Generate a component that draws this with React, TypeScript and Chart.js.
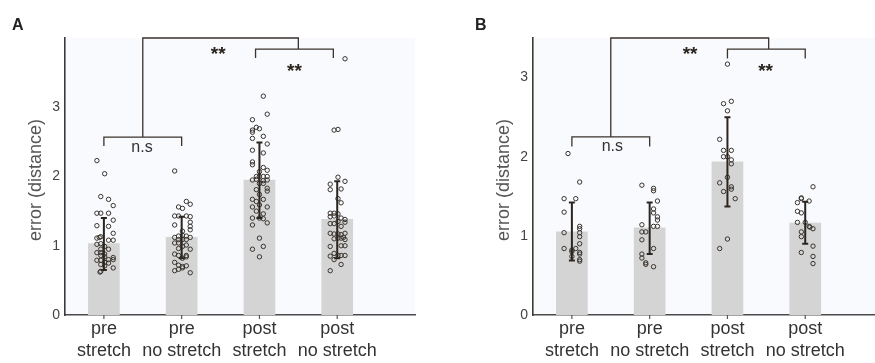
import React, { useEffect, useRef } from 'react';
import { Chart, registerables } from 'chart.js';

Chart.register(...registerables);

const FONT = '"Liberation Sans", Arial, Helvetica, sans-serif';

// ---- shared axis data ----
const CATEGORIES: string[][] = [
  ['pre', 'stretch'],
  ['pre', 'no stretch'],
  ['post', 'stretch'],
  ['post', 'no stretch'],
];
const CATEGORY_TICKS = [1, 2, 3, 4];
const Y_TICKS = [0, 1, 2, 3];
const Y_TITLE = 'error (distance)';

// ---- panel A data ----
const A_MEANS = [1.03, 1.12, 1.95, 1.38];
const A_ERR_LOW = [0.65, 0.82, 1.40, 0.82];
const A_ERR_HIGH = [1.40, 1.42, 2.49, 1.93];
// [jitter (category units), value]
const A_PTS_1: number[][] = [[-0.09,2.23],[0.01,2.04],[-0.04,1.71],[0.06,1.67],[0.12,1.58],[-0.09,1.47],[-0.04,1.47],[0.06,1.47],[0.12,1.37],[-0.09,1.29],[0.06,1.28],[0.12,1.18],[-0.09,1.11],[-0.06,1.12],[-0.04,1.13],[0.06,1.08],[0.12,1.08],[-0.09,1.02],[-0.04,1.03],[0.01,0.99],[-0.04,0.95],[0.06,0.95],[-0.09,0.90],[-0.04,0.90],[0.01,0.88],[-0.04,0.86],[0.01,0.84],[0.12,0.83],[0.06,0.80],[-0.09,0.79],[-0.04,0.79],[0.12,0.80],[0.01,0.76],[0.06,0.75],[-0.04,0.73],[0.01,0.71],[0.12,0.68],[-0.04,0.63],[-0.05,0.62]];
const A_PTS_2: number[][] = [[-0.09,2.08],[0.06,1.64],[0.11,1.60],[-0.04,1.56],[0.01,1.54],[-0.09,1.43],[-0.04,1.43],[0.06,1.43],[0.11,1.42],[0.11,1.34],[-0.09,1.30],[0.11,1.28],[0.11,1.23],[0.01,1.21],[-0.04,1.14],[0.01,1.15],[0.06,1.14],[-0.09,1.12],[0.11,1.12],[-0.04,1.09],[0.01,1.09],[0.06,1.09],[-0.09,1.04],[-0.04,1.04],[0.06,1.01],[0.01,0.99],[-0.04,0.96],[0.11,0.95],[-0.09,0.88],[-0.04,0.86],[0.06,0.86],[0.06,0.84],[0.01,0.82],[-0.09,0.76],[-0.04,0.72],[0.01,0.70],[0.06,0.71],[-0.09,0.64],[-0.04,0.66],[0.01,0.68],[0.11,0.61]];
const A_PTS_3: number[][] = [[0.05,3.16],[0.10,2.90],[-0.09,2.82],[-0.04,2.71],[0,2.69],[-0.09,2.67],[-0.09,2.64],[0.05,2.58],[-0.09,2.55],[0.10,2.47],[-0.09,2.38],[0.05,2.34],[-0.09,2.21],[-0.09,2.17],[0.05,2.13],[0,2.07],[0.10,2.09],[-0.04,2.00],[0,2.00],[0.05,2.00],[0.10,2.00],[-0.09,1.95],[-0.04,1.96],[0.05,1.94],[0.10,1.95],[0,1.90],[0.05,1.90],[0.10,1.83],[0.10,1.79],[-0.04,1.81],[0,1.74],[-0.09,1.67],[-0.04,1.64],[0.05,1.67],[0,1.59],[-0.09,1.56],[0.10,1.56],[-0.04,1.50],[0.05,1.46],[-0.09,1.40],[0,1.40],[0.05,1.39],[0.10,1.33],[-0.09,1.30],[0,1.11],[0.05,0.99],[-0.09,0.95],[0,0.84]];
const A_PTS_4: number[][] = [[0.10,3.70],[-0.04,2.67],[0.01,2.68],[0.01,1.99],[0.10,1.93],[-0.09,1.89],[-0.09,1.81],[0.05,1.82],[0.01,1.68],[0.05,1.62],[-0.09,1.47],[-0.04,1.47],[0.01,1.46],[-0.04,1.43],[-0.09,1.42],[0.05,1.40],[0.10,1.38],[0.10,1.34],[0.01,1.35],[-0.09,1.32],[-0.04,1.32],[0.05,1.28],[-0.09,1.18],[-0.04,1.17],[0.01,1.17],[0.05,1.16],[0.10,1.18],[-0.04,1.10],[0.01,1.11],[0.05,1.11],[0.08,1.12],[0.10,1.09],[-0.09,0.99],[0.05,1.00],[0.10,1.00],[-0.04,0.89],[-0.09,0.85],[0.01,0.86],[0.05,0.86],[0.10,0.86],[-0.04,0.80],[0.05,0.73],[-0.09,0.64]];
const A_BRACKETS = [
  { x1: 1, x2: 2, top: 2.57, end1: 2.44, end2: 2.44, label: 'n.s', lx: 1.49, ly: 2.42 },
  { x1: 2.95, x2: 3.95, top: 3.84, end1: 3.71, end2: 3.71, label: '**', lx: 3.45, ly: 3.60 },
  { x1: 1.5, x2: 3.5, top: 4.0, end1: 2.57, end2: 3.84, label: '**', lx: 2.47, ly: 3.84 },
];

// ---- panel B data ----
const B_MEANS = [1.05, 1.10, 1.935, 1.16];
const B_ERR_LOW = [0.69, 0.77, 1.37, 0.90];
const B_ERR_HIGH = [1.42, 1.42, 2.50, 1.43];
const B_PTS_1: number[][] = [[-0.05,2.04],[0.10,1.68],[-0.10,1.47],[0.05,1.47],[-0.10,1.30],[0.10,1.12],[0.10,1.09],[-0.10,1.04],[0.10,1.04],[0.10,0.99],[0.10,0.90],[-0.10,0.84],[0.05,0.84],[0,0.82],[0,0.80],[0.10,0.79],[0.10,0.77],[0,0.74],[0.10,0.70],[0.10,0.68]];
const B_PTS_2: number[][] = [[-0.10,1.64],[0.05,1.60],[0.05,1.57],[0.10,1.44],[0.05,1.34],[0.05,1.29],[0.10,1.24],[0.10,1.20],[-0.10,1.14],[0.05,1.12],[0.10,1.12],[-0.10,1.05],[-0.05,1.05],[-0.10,0.95],[0.05,0.84],[-0.10,0.77],[-0.10,0.72],[-0.05,0.66],[-0.05,0.64],[0.05,0.61]];
const B_PTS_3: number[][] = [[0,3.17],[-0.05,2.67],[0.05,2.70],[0,2.58],[-0.10,2.22],[-0.05,2.08],[0.05,2.08],[-0.05,2.00],[0,2.00],[0.05,1.96],[0.05,1.91],[0,1.74],[-0.10,1.67],[0.05,1.62],[0.05,1.59],[-0.05,1.56],[0.10,1.47],[0,0.96],[-0.10,0.84]];
const B_PTS_4: number[][] = [[0.10,1.62],[-0.05,1.48],[-0.05,1.47],[-0.10,1.42],[0.05,1.44],[-0.10,1.31],[-0.05,1.29],[-0.10,1.17],[0,1.17],[0.05,1.12],[0.06,1.11],[0.10,1.09],[-0.05,1.05],[-0.05,0.99],[0.10,0.87],[-0.05,0.79],[0.10,0.74],[0.10,0.65]];
const B_BRACKETS = [
  { x1: 1, x2: 2, top: 2.25, end1: 2.13, end2: 2.13, label: 'n.s', lx: 1.52, ly: 2.12 },
  { x1: 3, x2: 4, top: 3.36, end1: 3.24, end2: 3.24, label: '**', lx: 3.49, ly: 3.15 },
  { x1: 1.5, x2: 3.53, top: 3.5, end1: 2.25, end2: 3.36, label: '**', lx: 2.52, ly: 3.36 },
];

type Bracket = { x1: number; x2: number; top: number; end1: number; end2: number; label: string; lx: number; ly: number };

type PanelProps = {
  left: number;
  width: number;
  yAxisWidth: number;
  yMax: number;
  xMax: number;
  means: number[];
  errLow: number[];
  errHigh: number[];
  points: number[][][];
  brackets: Bracket[];
  letter: string;
  letterX: number;
};

function Panel(p: PanelProps) {
  const ref = useRef<HTMLCanvasElement | null>(null);
  useEffect(() => {
    if (!ref.current) return;
    const scatter: { x: number; y: number }[] = [];
    p.points.forEach((grp, i) => grp.forEach(([j, v]) => scatter.push({ x: i + 1 + j, y: v })));

    const decor = {
      id: 'decor',
      beforeDraw(chart: any) {
        const { ctx, chartArea: a } = chart;
        ctx.save();
        ctx.fillStyle = '#f9fafd';
        ctx.fillRect(a.left, a.top, a.right - a.left, a.bottom - a.top);
        ctx.restore();
      },
      afterDatasetsDraw(chart: any) {
        const { ctx } = chart;
        const xs = chart.scales.x, ys = chart.scales.y;
        ctx.save();
        ctx.strokeStyle = '#2b2520';
        ctx.lineWidth = 2;
        p.means.forEach((_m, i) => {
          const px = xs.getPixelForValue(i + 1);
          const lo = ys.getPixelForValue(p.errLow[i]);
          const hi = ys.getPixelForValue(p.errHigh[i]);
          ctx.beginPath();
          ctx.moveTo(px, lo); ctx.lineTo(px, hi);
          ctx.moveTo(px - 3, lo); ctx.lineTo(px + 3, lo);
          ctx.moveTo(px - 3, hi); ctx.lineTo(px + 3, hi);
          ctx.stroke();
        });
        ctx.restore();
      },
      afterDraw(chart: any) {
        const { ctx, chartArea: a } = chart;
        const xs = chart.scales.x, ys = chart.scales.y;
        ctx.save();
        // x tick marks
        ctx.strokeStyle = '#555';
        ctx.lineWidth = 1.2;
        CATEGORY_TICKS.forEach((v) => {
          const px = xs.getPixelForValue(v);
          ctx.beginPath(); ctx.moveTo(px, a.bottom); ctx.lineTo(px, a.bottom + 4); ctx.stroke();
        });
        // brackets
        ctx.strokeStyle = '#3a322c';
        ctx.lineWidth = 1.3;
        p.brackets.forEach((b) => {
          const x1 = xs.getPixelForValue(b.x1), x2 = xs.getPixelForValue(b.x2);
          const t = ys.getPixelForValue(b.top);
          ctx.beginPath();
          ctx.moveTo(x1, ys.getPixelForValue(b.end1));
          ctx.lineTo(x1, t);
          ctx.lineTo(x2, t);
          ctx.lineTo(x2, ys.getPixelForValue(b.end2));
          ctx.stroke();
          const lx = xs.getPixelForValue(b.lx), ly = ys.getPixelForValue(b.ly);
          ctx.textAlign = 'center';
          ctx.textBaseline = 'alphabetic';
          if (b.label === '**') {
            ctx.fillStyle = '#2b2520';
            ctx.font = `bold 19px ${FONT}`;
            ctx.fillText(b.label, lx, ly + 0.58 * 19);
          } else {
            ctx.fillStyle = '#333';
            ctx.font = `16px ${FONT}`;
            ctx.fillText(b.label, lx, ly + 0.26 * 16);
          }
        });
        // y title
        ctx.fillStyle = '#555';
        ctx.font = `18px ${FONT}`;
        ctx.textAlign = 'center';
        ctx.textBaseline = 'middle';
        ctx.translate(p.yAxisWidth - 29, 180);
        ctx.rotate(-Math.PI / 2);
        ctx.fillText(Y_TITLE, 0, 0);
        ctx.restore();
        // panel letter
        ctx.save();
        ctx.fillStyle = '#222';
        ctx.font = `bold 16px ${FONT}`;
        ctx.textAlign = 'left';
        ctx.textBaseline = 'alphabetic';
        ctx.fillText(p.letter, p.letterX, 30);
        ctx.restore();
      },
    };

    const chart = new Chart(ref.current, {
      type: 'bar',
      data: {
        datasets: [
          {
            type: 'scatter',
            data: scatter,
            pointRadius: 2.2,
            pointBorderWidth: 1,
            borderColor: '#3a342e',
            backgroundColor: 'rgba(0,0,0,0)',
            pointBackgroundColor: 'rgba(0,0,0,0)',
            pointBorderColor: '#3a342e',
            order: 1,
          } as any,
          {
            type: 'bar',
            data: p.means.map((m, i) => ({ x: i + 1, y: m })),
            backgroundColor: '#d4d4d4',
            barThickness: 31,
            order: 2,
          } as any,
        ],
      },
      options: {
        responsive: false,
        animation: false,
        events: [],
        layout: { padding: { top: 38, right: 5, left: 0, bottom: 0 } },
        plugins: { legend: { display: false }, tooltip: { enabled: false } },
        scales: {
          x: {
            type: 'linear',
            offset: false,
            min: 0.5,
            max: p.xMax,
            afterBuildTicks: (s: any) => { s.ticks = CATEGORY_TICKS.map((v) => ({ value: v })); },
            afterFit: (s: any) => { s.height = 48; },
            grid: { display: false, offset: false },
            border: { display: true, color: '#4a4a4a', width: 1.6 },
            ticks: {
              padding: -5,
              autoSkip: false,
              maxRotation: 0,
              color: '#333',
              font: { family: FONT, size: 18, lineHeight: 1.24 },
              callback: (v: any) => CATEGORIES[Math.round(Number(v)) - 1],
            },
          },
          y: {
            type: 'linear',
            min: 0,
            max: p.yMax,
            afterBuildTicks: (s: any) => { s.ticks = Y_TICKS.map((v) => ({ value: v })); },
            afterFit: (s: any) => { s.width = p.yAxisWidth; },
            grid: { display: false },
            border: { display: true, color: '#3a3a3a', width: 1.6 },
            ticks: {
              padding: -3,
              color: '#444',
              font: { family: FONT, size: 14 },
              callback: (v: any) => String(v),
            },
          },
        },
      } as any,
      plugins: [decor],
    });
    return () => chart.destroy();
  }, []);
  return (
    <canvas
      ref={ref}
      width={p.width}
      height={363}
      style={{ position: 'absolute', left: p.left, top: 0, width: p.width, height: 363 }}
    />
  );
}

export default function App() {
  return (
    <div style={{ position: 'fixed', left: 0, top: 0, width: 875, height: 363, overflow: 'hidden', background: '#fff' }}>
      <Panel
        left={0}
        width={420}
        yAxisWidth={65}
        yMax={4}
        xMax={5}
        means={A_MEANS}
        errLow={A_ERR_LOW}
        errHigh={A_ERR_HIGH}
        points={[A_PTS_1, A_PTS_2, A_PTS_3, A_PTS_4]}
        brackets={A_BRACKETS}
        letter="A"
        letterX={12}
      />
      <Panel
        left={440}
        width={448}
        yAxisWidth={93}
        yMax={3.5}
        xMax={5}
        means={B_MEANS}
        errLow={B_ERR_LOW}
        errHigh={B_ERR_HIGH}
        points={[B_PTS_1, B_PTS_2, B_PTS_3, B_PTS_4]}
        brackets={B_BRACKETS}
        letter="B"
        letterX={35}
      />
    </div>
  );
}
